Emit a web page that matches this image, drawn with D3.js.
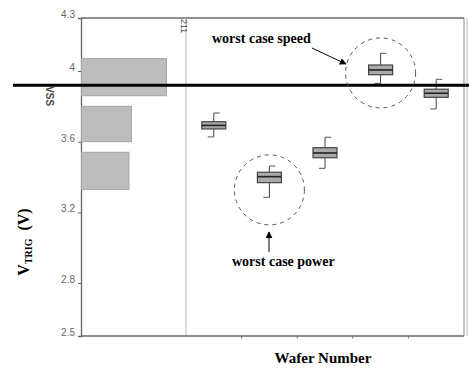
<!DOCTYPE html>
<html>
<head>
<meta charset="utf-8">
<script src="https://cdn.jsdelivr.net/npm/d3@7"></script>
<style>
  body { margin: 0; background: #fff; }
  svg { display: block; }
</style>
</head>
<body>
<div id="chart"></div>
<script>
// data
const yTicks = [4.3, 4, 3.6, 3.2, 2.8, 2.5];
const vssLevel = 3.92;

// histogram of V_TRIG (left panel)
const binLow = [3.86, 3.60, 3.33];
const binHigh = [4.07, 3.80, 3.54];
const binCount = [34, 20, 19];

// box plots per wafer
const wafers = ["W1", "W2", "W3", "W4", "W5"];
const boxLow = [3.627, 3.285, 3.449, 3.930, 3.785];
const boxQ1 = [3.672, 3.368, 3.509, 3.979, 3.851];
const boxMed = [3.692, 3.402, 3.536, 4.006, 3.874];
const boxQ3 = [3.713, 3.427, 3.566, 4.034, 3.897];
const boxHigh = [3.762, 3.462, 3.625, 4.100, 3.953];

const width = 469, height = 369;
const plot = { left: 81, right: 464, top: 18, bottom: 336, split: 186 };

const svg = d3.select("#chart").append("svg")
  .attr("width", width).attr("height", height);

const y = d3.scaleLinear().domain([2.5, 4.3]).range([plot.bottom, plot.top]);
const xHist = d3.scaleLinear().domain([0, 42]).range([plot.left, plot.split]);
const x = d3.scaleBand().domain(wafers).range([plot.split, plot.right]);

// frame
svg.append("line").attr("x1", plot.left).attr("x2", plot.right).attr("y1", plot.top).attr("y2", plot.top)
  .attr("stroke", "#222").attr("stroke-width", 1.2);
svg.append("line").attr("x1", plot.right).attr("x2", plot.right).attr("y1", plot.top).attr("y2", plot.bottom)
  .attr("stroke", "#888").attr("stroke-width", 1);
svg.append("line").attr("x1", plot.right + 3).attr("x2", plot.right + 3).attr("y1", plot.top).attr("y2", plot.bottom)
  .attr("stroke", "#bbb").attr("stroke-width", 1);
svg.append("line").attr("x1", plot.split).attr("x2", plot.split).attr("y1", plot.top).attr("y2", plot.bottom)
  .attr("stroke", "#bbb").attr("stroke-width", 1);

// y axis
const yAxis = svg.append("g").attr("transform", `translate(${plot.left},0)`)
  .call(d3.axisLeft(y).tickValues(yTicks).tickSize(3).tickPadding(3)
    .tickFormat(d => String(d)));
yAxis.select(".domain").attr("stroke", "#666").attr("stroke-width", 1.3);
yAxis.selectAll(".tick line").attr("stroke", "#666");
yAxis.selectAll(".tick text")
  .attr("dy", "-0.05em")
  .attr("font-family", "Liberation Sans, Arial, sans-serif")
  .attr("font-size", 10).attr("fill", "#666");

// bottom axis (ticks between wafers)
const bAxis = svg.append("g").attr("transform", `translate(0,${plot.bottom})`);
bAxis.append("line").attr("x1", plot.left).attr("x2", plot.right).attr("stroke", "#666").attr("stroke-width", 1.3);
bAxis.selectAll("line.tk")
  .data(wafers.slice(1))
  .join("line").attr("class", "tk")
  .attr("x1", d => x(d)).attr("x2", d => x(d))
  .attr("y1", 0).attr("y2", 2.5).attr("stroke", "#666");

// histogram bars
const bins = binLow.map((lo, i) => ({ lo, hi: binHigh[i], n: binCount[i] }));
svg.selectAll("rect.bin")
  .data(bins)
  .join("rect").attr("class", "bin")
  .attr("x", xHist(0) + 0.5)
  .attr("y", d => y(d.hi))
  .attr("width", d => xHist(d.n) - xHist(0))
  .attr("height", d => y(d.lo) - y(d.hi))
  .attr("fill", "#bdbdbd").attr("stroke", "#a5a5a5");

// box plots
const boxes = wafers.map((w, i) => ({
  w, lo: boxLow[i], q1: boxQ1[i], med: boxMed[i], q3: boxQ3[i], hi: boxHigh[i]
}));
const bw = 24;
const g = svg.selectAll("g.box").data(boxes).join("g").attr("class", "box")
  .attr("transform", d => `translate(${x(d.w) + x.bandwidth() / 2},0)`);
g.append("line").attr("x1", 0).attr("x2", 0)
  .attr("y1", d => y(d.hi)).attr("y2", d => y(d.q3)).attr("stroke", "#444");
g.append("line").attr("x1", 0).attr("x2", 0)
  .attr("y1", d => y(d.q1)).attr("y2", d => y(d.lo)).attr("stroke", "#444");
g.append("line").attr("x1", 0).attr("x2", 6)
  .attr("y1", d => y(d.hi)).attr("y2", d => y(d.hi)).attr("stroke", "#555");
g.append("line").attr("x1", -6).attr("x2", 0)
  .attr("y1", d => y(d.lo)).attr("y2", d => y(d.lo)).attr("stroke", "#555");
g.append("rect")
  .attr("x", -bw / 2).attr("width", bw)
  .attr("y", d => y(d.q3)).attr("height", d => y(d.q1) - y(d.q3))
  .attr("fill", "#a9a9a9").attr("stroke", "#444").attr("stroke-width", 1.2);
g.append("line").attr("x1", -bw / 2).attr("x2", bw / 2)
  .attr("y1", d => y(d.med)).attr("y2", d => y(d.med))
  .attr("stroke", "#222").attr("stroke-width", 1.6);

// vss line
svg.append("line").attr("x1", 13).attr("x2", width)
  .attr("y1", y(vssLevel)).attr("y2", y(vssLevel))
  .attr("stroke", "#000").attr("stroke-width", 3);

// small rotated labels
svg.append("text").attr("transform", `translate(46,${y(vssLevel) + 1}) rotate(90)`)
  .attr("font-family", "Liberation Sans, Arial, sans-serif").attr("font-size", 10)
  .attr("font-weight", "bold").attr("fill", "#444").text("VSS");
svg.append("text").attr("transform", `translate(181,${plot.top + 1}) rotate(90)`)
  .attr("font-family", "Liberation Sans, Arial, sans-serif").attr("font-size", 9)
  .attr("fill", "#444").text("211");

// dashed circles
const serif = "Liberation Serif, 'Times New Roman', serif";
[["W4", 3.989], ["W2", 3.327]].forEach(([w, v]) => {
  svg.append("circle")
    .attr("cx", x(w) + x.bandwidth() / 2).attr("cy", y(v)).attr("r", 35)
    .attr("fill", "none").attr("stroke", "#555").attr("stroke-width", 1)
    .attr("stroke-dasharray", "4,4");
});

// arrows
svg.append("defs").append("marker")
  .attr("id", "ah").attr("viewBox", "0 0 10 10").attr("refX", 9).attr("refY", 5)
  .attr("markerWidth", 7).attr("markerHeight", 7).attr("orient", "auto")
  .attr("markerUnits", "userSpaceOnUse")
  .append("path").attr("d", "M0,0L10,5L0,10Z").attr("fill", "#000");
svg.append("line").attr("x1", 312).attr("y1", 48).attr("x2", 346).attr("y2", 64)
  .attr("stroke", "#000").attr("stroke-width", 1).attr("marker-end", "url(#ah)");
svg.append("line").attr("x1", 269).attr("y1", 252).attr("x2", 269).attr("y2", 232)
  .attr("stroke", "#000").attr("stroke-width", 1).attr("marker-end", "url(#ah)");

svg.append("text").attr("x", 212).attr("y", 43)
  .attr("font-family", serif).attr("font-size", 14).attr("font-weight", "bold")
  .text("worst case speed");
svg.append("text").attr("x", 232).attr("y", 266)
  .attr("font-family", serif).attr("font-size", 14).attr("font-weight", "bold")
  .text("worst case power");

// axis titles
svg.append("text").attr("x", 323).attr("y", 363).attr("text-anchor", "middle")
  .attr("font-family", serif).attr("font-size", 15).attr("font-weight", "bold")
  .text("Wafer Number");
const yt = svg.append("text").attr("transform", "translate(29,242) rotate(-90)")
  .attr("text-anchor", "middle")
  .attr("font-family", serif).attr("font-size", 16).attr("font-weight", "bold");
yt.append("tspan").text("V");
yt.append("tspan").attr("font-size", 10).attr("dy", 3).text("TRIG");
yt.append("tspan").attr("dy", -3).text("\u00a0\u00a0(V)");
</script>
</body>
</html>
